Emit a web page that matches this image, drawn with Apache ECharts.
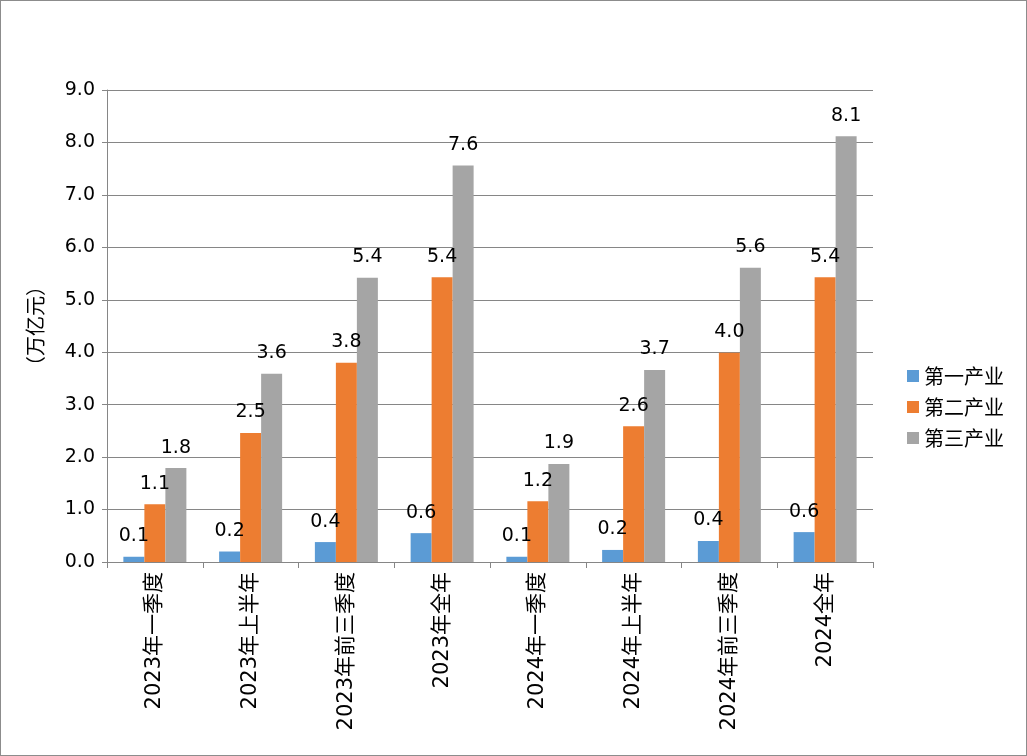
<!DOCTYPE html>
<html>
<head>
<meta charset="utf-8">
<script src="https://cdn.jsdelivr.net/npm/echarts@6/dist/echarts.min.js"></script>
<style>
html, body { margin: 0; padding: 0; background: #fff; }
#chart { width: 1027px; height: 756px; box-sizing: border-box; border: 1px solid #8c8c8c; }
</style>
</head>
<body>
<div id="chart"></div>
<script>
var categories = ['2023年一季度', '2023年上半年', '2023年前三季度', '2023年全年', '2024年一季度', '2024年上半年', '2024年前三季度', '2024全年'];
var primary = [0.1, 0.2, 0.38, 0.55, 0.1, 0.23, 0.4, 0.57];
var secondary = [1.1, 2.46, 3.8, 5.43, 1.16, 2.59, 3.99, 5.43];
var tertiary = [1.79, 3.59, 5.42, 7.56, 1.87, 3.66, 5.61, 8.12];
var seriesNames = ['第一产业', '第二产业', '第三产业'];
var colors = ['#5b9bd5', '#ed7d31', '#a5a5a5'];

var myChart = echarts.init(document.getElementById('chart'));

function makeSeries(name, data) {
	return {
		name: name,
		type: 'bar',
		barWidth: 21,
		barGap: '0%',
		data: data,
		label: {
			show: true,
			position: 'top',
			distance: 11,
			color: '#000',
			fontFamily: 'DejaVu Sans',
			fontSize: 19,
			formatter: function(v) {
				return v.value.toFixed(1);
			}
		}
	};
}

var option = {
	backgroundColor: '#fff',
	color: colors,
	animation: false,
	grid: {
		left: 106,
		right: 153,
		top: 89,
		bottom: 193,
		containLabel: false
	},
	legend: {
		orient: 'vertical',
		left: 901,
		top: 360,
		itemWidth: 12,
		itemHeight: 12,
		itemGap: 11,
		icon: 'rect',
		textStyle: {
			fontFamily: 'Noto Sans CJK SC',
			fontSize: 20,
			color: '#000'
		},
		data: seriesNames
	},
	xAxis: {
		type: 'category',
		data: categories,
		axisLine: { lineStyle: { color: '#868686', width: 1 } },
		axisTick: { show: true, length: 6, lineStyle: { color: '#868686' } },
		axisLabel: {
			rotate: 90,
			margin: 10,
			interval: 0,
			color: '#000',
			fontSize: 21,
			fontFamily: 'DejaVu Sans, Noto Sans CJK SC'
		}
	},
	yAxis: {
		type: 'value',
		min: 0,
		max: 9,
		interval: 1,
		name: '（万亿元）',
		nameLocation: 'middle',
		nameGap: 62,
		nameTextStyle: {
			color: '#000',
			fontSize: 20,
			fontFamily: 'Noto Sans CJK SC'
		},
		axisLine: { show: true, lineStyle: { color: '#868686' } },
		axisTick: { show: true, length: 5, lineStyle: { color: '#868686' } },
		splitLine: { lineStyle: { color: '#868686', width: 1 } },
		axisLabel: {
			color: '#000',
			fontSize: 19,
			fontFamily: 'DejaVu Sans',
			margin: 12,
			formatter: function(v) {
				return v.toFixed(1);
			}
		}
	},
	series: [
		makeSeries(seriesNames[0], primary),
		makeSeries(seriesNames[1], secondary),
		makeSeries(seriesNames[2], tertiary)
	]
};
myChart.setOption(option);
</script>
</body>
</html>
